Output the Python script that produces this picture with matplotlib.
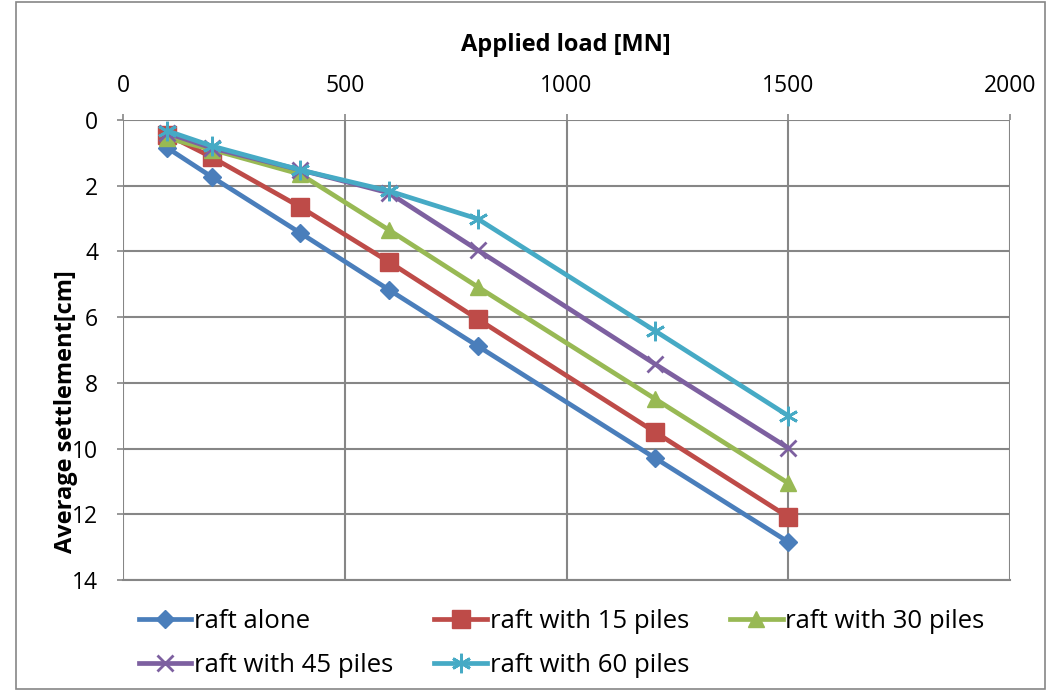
import numpy as np
import matplotlib
matplotlib.use('Agg')
import matplotlib.pyplot as plt
from matplotlib.patches import Rectangle

# -------------- Data ----------------
load = [100, 200, 400, 600, 800, 1200, 1500]
raft_alone = [0.85, 1.73, 3.44, 5.17, 6.88, 10.29, 12.84]
raft_15 = [0.45, 1.13, 2.65, 4.32, 6.06, 9.50, 12.08]
raft_30 = [0.55, 0.90, 1.65, 3.35, 5.08, 8.49, 11.05]
raft_45 = [0.40, 0.85, 1.52, 2.22, 3.96, 7.43, 9.98]
raft_60 = [0.33, 0.79, 1.52, 2.16, 3.01, 6.42, 9.00]

labels = ["raft alone", "raft with 15 piles", "raft with 30 piles",
          "raft with 45 piles", "raft with 60 piles"]
series = [raft_alone, raft_15, raft_30, raft_45, raft_60]
colors = ['#4A7EBB', '#BE4B48', '#98B954', '#7D60A0', '#46AAC5']
markers = ['D', 's', '^', 'x', (6, 2, 0)]
msizes = [9, 13, 12, 12, 14]

plt.rcParams['font.family'] = ['Open Sans', 'DejaVu Sans']

fig = plt.figure(figsize=(10.58, 6.91), dpi=100)
ax = fig.add_axes([0.1163, 0.1606, 0.8383, 0.6657])

handles = []
for y, lab, c, m, ms in zip(series, labels, colors, markers, msizes):
    h, = ax.plot(load, y, color=c, lw=3.4, marker=m, markersize=ms,
                 markeredgewidth=2 if m in ('x', (6, 2, 0)) else 1,
                 markeredgecolor=c, markerfacecolor=c, label=lab, zorder=3)
    handles.append(h)

ax.set_xlim(0, 2000)
ax.set_ylim(14, 0)
ax.set_xticks(np.arange(0, 2001, 500))
ax.set_yticks(np.arange(0, 15, 2))
ax.xaxis.tick_top()
ax.grid(True, color='#868686', lw=1.5)
ax.set_axisbelow(True)
for s in ax.spines.values():
    s.set_visible(False)
ax.spines['bottom'].set_visible(True)
ax.spines['bottom'].set_color('#868686')
ax.spines['bottom'].set_linewidth(1.5)
ax.tick_params(axis='both', length=4, width=1.2, color='#868686',
               direction='out', labelsize=16.5)
ax.tick_params(axis='y', pad=14)
ax.tick_params(axis='x', pad=12)

fig.text(0.535, 0.935, "Applied load [MN]", ha='center', va='center',
         fontsize=17, fontweight='bold')
fig.text(0.062, 0.405, "Average settlement[cm]", ha='center', va='center',
         fontsize=17, fontweight='bold', rotation=90)

# legend filled row by row like the reference (matplotlib fills columns)
order = [0, 3, 1, 4, 2]
leg = fig.legend(handles=[handles[i] for i in order], loc='upper left',
                 bbox_to_anchor=(0.119, 0.137),
                 ncol=3, frameon=False, fontsize=18.5, handlelength=2.05,
                 handletextpad=0.1, columnspacing=1.6, labelspacing=0.75,
                 borderpad=0)

fig.patches.append(Rectangle((0.015, 0.003), 0.973, 0.994, transform=fig.transFigure,
                             fill=False, edgecolor='#868686', lw=1.2))

fig.savefig('out.png', dpi=100)
